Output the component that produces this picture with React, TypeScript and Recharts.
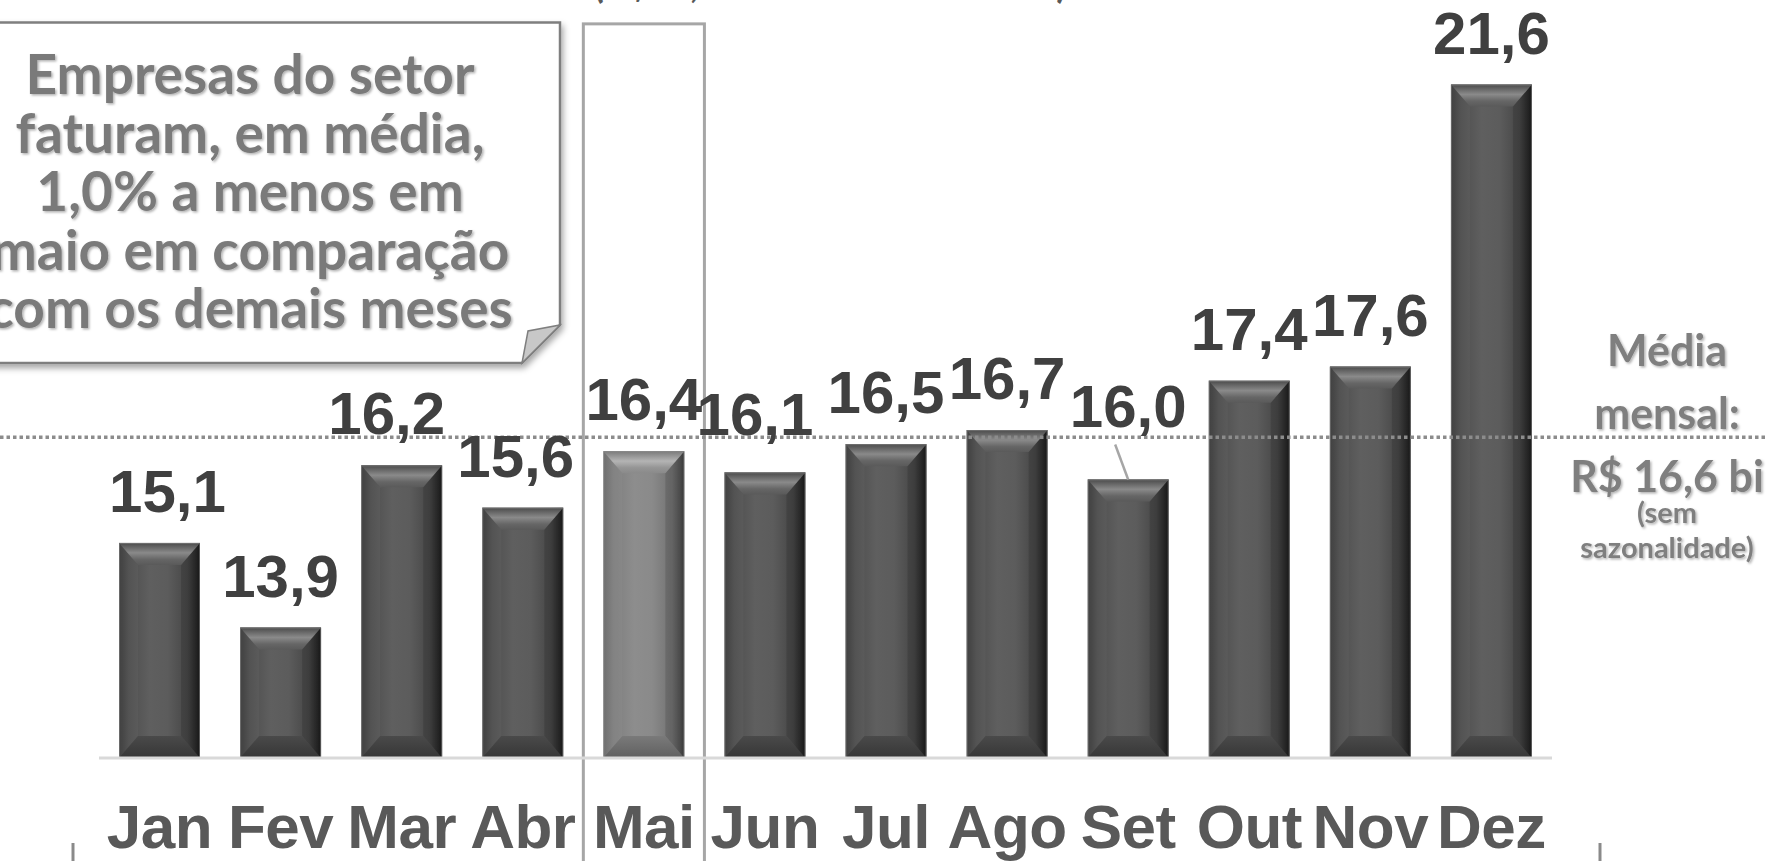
import React from 'react';
import { BarChart, Bar, XAxis, YAxis, LabelList, ReferenceLine, ReferenceArea } from 'recharts';

const months = ['Jan', 'Fev', 'Mar', 'Abr', 'Mai', 'Jun', 'Jul', 'Ago', 'Set', 'Out', 'Nov', 'Dez'];
const revenue = [15.1, 13.9, 16.2, 15.6, 16.4, 16.1, 16.5, 16.7, 16.0, 17.4, 17.6, 21.6];
const monthlyMean = 16.6;
const highlightMonth = 'Mai';
const yDomain: [number, number] = [12.05, 22.6];
const highlightTop = 22.46;
const calloutLines = ['Empresas do setor', 'faturam, em média,', '1,0% a menos em', 'maio em comparação', 'com os demais meses'];
const meanLines = ['Média', 'mensal:', 'R$ 16,6 bi'];
const meanNote = ['(sem', 'sazonalidade)'];
const titleText = '(R$ bi, média anual de 2013)';

// label nudges (style only)
const labelDx: Record<number, number> = { 0: 8, 2: -15, 3: -7, 5: -10 };
const labelDy: Record<number, number> = { 5: -6, 8: -21 };

const data = months.map((m, i) => ({ month: m, value: revenue[i] }));

const fmt = (v: number) => v.toFixed(1).replace('.', ',');

const BevelBar = (props: any) => {
  const { x, y, width: w, height: h, payload } = props;
  if (w == null || h == null || h <= 0) return null;
  const id = payload && payload.month === highlightMonth ? 'hl' : 'dk';
  const b = 19;
  const bh = 22;
  return (
    <g>
      <rect x={x} y={y} width={w} height={h} fill={`url(#face-${id})`} />
      <polygon points={`${x},${y} ${x + b},${y + bh} ${x + b},${y + h - bh} ${x},${y + h}`} fill="rgba(255,255,255,0.03)" />
      <polygon points={`${x + w},${y} ${x + w - b},${y + bh} ${x + w - b},${y + h - bh} ${x + w},${y + h}`} fill="rgba(0,0,0,0.12)" />
      <polygon points={`${x},${y} ${x + w},${y} ${x + w - b},${y + bh} ${x + b},${y + bh}`} fill={`url(#top-${id})`} />
      <polygon points={`${x},${y + h} ${x + w},${y + h} ${x + w - b},${y + h - bh} ${x + b},${y + h - bh}`} fill={`url(#bot-${id})`} />
      <rect x={x + 0.5} y={y + 0.5} width={w - 1} height={h - 1} fill="none" stroke="rgba(140,140,140,0.55)" strokeWidth={1} />
    </g>
  );
};

const ValueLabel = (props: any) => {
  const { x, y, width, value, index } = props;
  const cx = x + width / 2;
  const tx = cx + (labelDx[index] || 0);
  const ty = y - 31 + (labelDy[index] || 0);
  return (
    <g>
      {index === 8 && (
        <line x1={cx - 13} y1={y - 35} x2={cx} y2={y} stroke="#a6a6a6" strokeWidth={2.5} />
      )}
      <text x={tx} y={ty} textAnchor="middle" fontFamily="'Liberation Sans', Arial, sans-serif" fontWeight="bold" fontSize={60} fill="#404040">
        {fmt(Number(value))}
      </text>
    </g>
  );
};

const MonthTick = (props: any) => {
  const { x, y, payload } = props;
  return (
    <text x={x} y={y + 90} textAnchor="middle" fontFamily="'Liberation Sans', Arial, sans-serif" fontWeight="bold" fontSize={62} fill="#595959" letterSpacing={-0.5}>
      {payload.value}
    </text>
  );
};

const MeanLine = (p: any) => (
  <line x1={0} x2={1768} y1={p.y1} y2={p.y1} stroke="#8c8c8c" strokeWidth={3.5} strokeDasharray="3.5 3" />
);

const HighlightBox = (p: any) => (
  <rect x={p.x} y={p.y} width={p.width} height={900} fill="none" stroke="#a6a6a6" strokeWidth={3} />
);

const Defs = () => (
  <svg width={0} height={0} style={{ position: 'absolute' }}>
    <defs>
      <linearGradient id="face-dk" x1="0" y1="0" x2="1" y2="0">
        <stop offset="0" stopColor="#3a3a3a" />
        <stop offset="0.12" stopColor="#4e4e4e" />
        <stop offset="0.38" stopColor="#5f5f5f" />
        <stop offset="0.6" stopColor="#5c5c5c" />
        <stop offset="0.85" stopColor="#464646" />
        <stop offset="0.95" stopColor="#2a2a2a" />
        <stop offset="1" stopColor="#1a1a1a" />
      </linearGradient>
      <linearGradient id="top-dk" x1="0" y1="0" x2="0" y2="1">
        <stop offset="0" stopColor="#4a4a4a" />
        <stop offset="0.45" stopColor="#8a8a8a" />
        <stop offset="0.75" stopColor="#666" />
        <stop offset="1" stopColor="#5a5a5a" />
      </linearGradient>
      <linearGradient id="bot-dk" x1="0" y1="0" x2="0" y2="1">
        <stop offset="0" stopColor="#4a4a4a" />
        <stop offset="1" stopColor="#363636" />
      </linearGradient>
      <linearGradient id="face-hl" x1="0" y1="0" x2="1" y2="0">
        <stop offset="0" stopColor="#6a6a6a" />
        <stop offset="0.12" stopColor="#7e7e7e" />
        <stop offset="0.38" stopColor="#8d8d8d" />
        <stop offset="0.6" stopColor="#8a8a8a" />
        <stop offset="0.85" stopColor="#727272" />
        <stop offset="0.95" stopColor="#555" />
        <stop offset="1" stopColor="#3e3e3e" />
      </linearGradient>
      <linearGradient id="top-hl" x1="0" y1="0" x2="0" y2="1">
        <stop offset="0" stopColor="#7a7a7a" />
        <stop offset="0.45" stopColor="#b4b4b4" />
        <stop offset="0.75" stopColor="#959595" />
        <stop offset="1" stopColor="#8a8a8a" />
      </linearGradient>
      <linearGradient id="bot-hl" x1="0" y1="0" x2="0" y2="1">
        <stop offset="0" stopColor="#7a7a7a" />
        <stop offset="1" stopColor="#606060" />
      </linearGradient>
      <filter id="txtShadow" x="-10%" y="-30%" width="120%" height="160%">
        <feDropShadow dx="1.5" dy="1.5" stdDeviation="1" floodColor="#000" floodOpacity="0.3" />
      </filter>
      <filter id="boxShadow" x="-10%" y="-10%" width="120%" height="130%">
        <feDropShadow dx="2" dy="4" stdDeviation="3" floodColor="#000" floodOpacity="0.35" />
      </filter>
      <filter id="blur2">
        <feGaussianBlur stdDeviation="2" />
      </filter>
    </defs>
  </svg>
);

const Overlay = () => {
  const calloutFont = "Lato, 'Open Sans', sans-serif";
  return (
    <svg width={1768} height={861} style={{ position: 'absolute', left: 0, top: 0, pointerEvents: 'none' }}>
      {/* title (cut off at top) */}
      <text x={830} y={-3} textAnchor="middle" fontFamily={calloutFont} fontWeight="bold" fontSize={44} fill="#595959" textLength={473} lengthAdjust="spacingAndGlyphs">
        {titleText}
      </text>
      {/* callout box */}
      <path d="M -20 22.5 H 560 V 325 L 522 363 H -20 Z" fill="#fff" stroke="#7f7f7f" strokeWidth={2.5} filter="url(#boxShadow)" />
      <path d="M 560 325 L 522 363 L 528 331 Z" fill="#c8c8c8" stroke="#7f7f7f" strokeWidth={1.5} />
      {calloutLines.map((t, i) => (
        <text key={i} x={250} y={94 + i * 58.5} textAnchor="middle" fontFamily={calloutFont} fontWeight="bold" fontSize={55} fill="#7a7a7a" filter="url(#txtShadow)">
          {t}
        </text>
      ))}
      {/* mean label */}
      {meanLines.map((t, i) => (
        <text key={i} x={1667} y={366 + i * 63} textAnchor="middle" fontFamily={calloutFont} fontWeight="bold" fontSize={43} fill="#7f7f7f" filter="url(#txtShadow)">
          {t}
        </text>
      ))}
      {meanNote.map((t, i) => (
        <text key={i} x={1667} y={523 + i * 35} textAnchor="middle" fontFamily={calloutFont} fontWeight="bold" fontSize={29} fill="#7f7f7f" filter="url(#txtShadow)">
          {t}
        </text>
      ))}
      {/* bracket ends at bottom */}
      <line x1={68} y1={845} x2={68} y2={861} stroke="#555" strokeWidth={4} filter="url(#blur2)" opacity={0.5} />
      <line x1={73} y1={843} x2={73} y2={861} stroke="#8a8a8a" strokeWidth={3} />
      <line x1={1604} y1={845} x2={1604} y2={861} stroke="#555" strokeWidth={4} filter="url(#blur2)" opacity={0.5} />
      <line x1={1600} y1={843} x2={1600} y2={861} stroke="#8a8a8a" strokeWidth={3} />
    </svg>
  );
};

export default function App() {
  return (
    <div style={{ position: 'absolute', left: 0, top: 0, width: 1768, height: 861, background: '#fff', overflow: 'hidden' }}>
      <Defs />
      <div style={{ position: 'absolute', left: 0, top: 0 }}>
        <BarChart width={1768} height={861} data={data} margin={{ top: 14, right: 216, bottom: 0, left: 99 }}>
          <XAxis
            dataKey="month"
            height={103}
            tickLine={false}
            tickSize={0}
            tickMargin={0}
            axisLine={{ stroke: '#d9d9d9', strokeWidth: 3 }}
            tick={<MonthTick />}
            interval={0}
          />
          <YAxis hide width={0} type="number" domain={yDomain} allowDataOverflow />
          <ReferenceArea x1={highlightMonth} x2={highlightMonth} y1={yDomain[0]} y2={highlightTop} shape={<HighlightBox />} ifOverflow="visible" />
          <Bar dataKey="value" barSize={81} shape={<BevelBar />} isAnimationActive={false}>
            <LabelList dataKey="value" content={<ValueLabel />} />
          </Bar>
          <ReferenceLine y={monthlyMean} shape={<MeanLine />} ifOverflow="visible" />
        </BarChart>
      </div>
      <Overlay />
    </div>
  );
}
